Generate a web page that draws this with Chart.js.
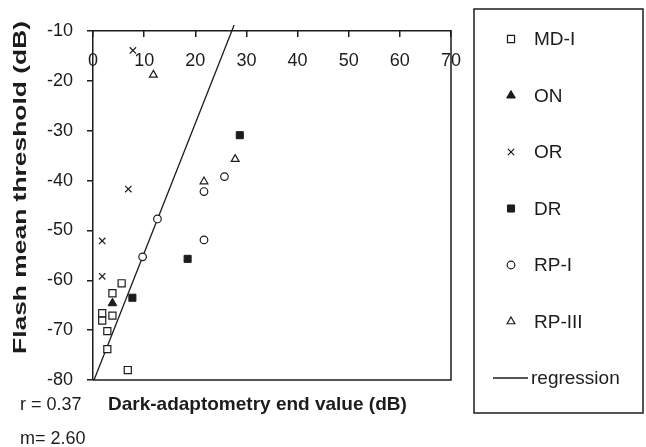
<!DOCTYPE html>
<html>
<head>
<meta charset="utf-8">
<script src="https://cdn.jsdelivr.net/npm/chart.js@4.4.1/dist/chart.umd.min.js"></script>
<style>
  body { margin: 0; background: #fff; }
  #wrap { width: 646px; height: 447px; }
</style>
</head>
<body>
<div id="wrap"><canvas id="chart-flash"></canvas></div>
<script>
// values (x = dark-adaptometry end value, y = flash mean threshold)
const md_x = [5.6, 3.8, 1.8, 1.8, 3.8, 2.8, 2.8, 6.8];
const md_y = [-60.6, -62.6, -66.6, -68.1, -67.1, -70.2, -73.8, -78.0];
const on_x = [3.8];
const on_y = [-64.6];
const or_x = [7.8, 6.9, 1.8, 1.8];
const or_y = [-13.9, -41.7, -52.1, -59.2];
const dr_x = [28.7, 18.5, 7.7];
const dr_y = [-30.9, -55.7, -63.5];
const rp1_x = [25.7, 21.7, 12.6, 21.7, 9.7];
const rp1_y = [-39.2, -42.2, -47.7, -51.9, -55.3];
const rp3_x = [11.8, 27.8, 21.7];
const rp3_y = [-18.8, -35.7, -40.2];
const reg_x = [0.2, 27.6];
const reg_y = [-80, -8.8];

const labels = ['MD-I', 'ON', 'OR', 'DR', 'RP-I', 'RP-III', 'regression'];
const stats = ['r = 0.37', 'm= 2.60'];
const x_title = 'Dark-adaptometry end value (dB)';
const y_title = 'Flash mean threshold (dB)';

const ink = '#1c1c1c';
const font = 'Liberation Sans, Arial, sans-serif';

function pts(xs, ys) {
    return xs.map((x, i) => ({ x: x, y: ys[i] }));
}

const datasets = [
    { label: labels[0], data: pts(md_x, md_y), pointStyle: 'rect', pointRadius: 5, backgroundColor: '#fff', borderColor: ink, borderWidth: 1.2 },
    { label: labels[1], data: pts(on_x, on_y), pointStyle: 'triangle', pointRadius: 5, backgroundColor: ink, borderColor: ink, borderWidth: 1 },
    { label: labels[2], data: pts(or_x, or_y), pointStyle: 'crossRot', pointRadius: 4.5, backgroundColor: ink, borderColor: ink, borderWidth: 1.2 },
    { label: labels[3], data: pts(dr_x, dr_y), pointStyle: 'rect', pointRadius: 5, backgroundColor: ink, borderColor: ink, borderWidth: 1 },
    { label: labels[4], data: pts(rp1_x, rp1_y), pointStyle: 'circle', pointRadius: 3.8, backgroundColor: '#fff', borderColor: ink, borderWidth: 1.2 },
    { label: labels[5], data: pts(rp3_x, rp3_y), pointStyle: 'triangle', pointRadius: 4.5, backgroundColor: '#fff', borderColor: ink, borderWidth: 1.2 },
    { label: labels[6], data: pts(reg_x, reg_y), showLine: true, pointRadius: 0, borderColor: ink, borderWidth: 1.3, clip: false }
];

// frame, x tick labels inside the plot, legend box and free texts
const decorPlugin = {
    id: 'decor',
    afterDraw(chart) {
        const ctx = chart.ctx;
        const a = chart.chartArea;
        ctx.save();
        ctx.strokeStyle = ink;
        ctx.lineWidth = 1.5;
        ctx.beginPath();
        ctx.moveTo(a.right, a.top);
        ctx.lineTo(a.right, a.bottom);
        ctx.lineTo(a.left, a.bottom);
        ctx.stroke();

        ctx.fillStyle = ink;
        ctx.font = '18px ' + font;
        ctx.textAlign = 'center';
        ctx.textBaseline = 'middle';
        const xs = chart.scales.x;
        xs.ticks.forEach(t => {
            ctx.fillText(String(t.value), xs.getPixelForValue(t.value), a.top + 30);
        });

        // legend
        ctx.strokeRect(474, 9, 169, 404);
        ctx.font = '19px ' + font;
        ctx.textAlign = 'left';
        chart.data.datasets.forEach((ds, i) => {
            const y = 39 + i * 56.5;
            ctx.save();
            ctx.strokeStyle = ds.borderColor;
            ctx.fillStyle = ds.backgroundColor;
            ctx.lineWidth = ds.borderWidth;
            if (ds.showLine) {
                ctx.beginPath();
                ctx.moveTo(493, y);
                ctx.lineTo(528, y);
                ctx.stroke();
            } else {
                Chart.helpers.drawPoint(ctx, {
                    pointStyle: ds.pointStyle,
                    radius: ds.pointRadius,
                    rotation: 0,
                    borderWidth: ds.borderWidth
                }, 511, y);
            }
            ctx.restore();
            ctx.fillText(ds.label, ds.showLine ? 531 : 534, y + 1);
        });

        // stats and axis titles
        ctx.textBaseline = 'alphabetic';
        ctx.font = '18px ' + font;
        ctx.fillText(stats[0], 20, 410);
        ctx.fillText(stats[1], 20, 444);
        ctx.font = 'bold 19px ' + font;
        ctx.fillText(x_title, 108, 410);

        ctx.translate(26, 354);
        ctx.rotate(-Math.PI / 2);
        const w = ctx.measureText(y_title).width;
        ctx.scale(333 / w, 1);
        ctx.fillText(y_title, 0, 0);
        ctx.restore();
    }
};

new Chart(document.getElementById('chart-flash'), {
    type: 'scatter',
    data: { datasets: datasets },
    options: {
        responsive: true,
        maintainAspectRatio: false,
        animation: false,
        layout: { padding: { left: 0, top: 0, right: 195, bottom: 67 } },
        plugins: {
            legend: { display: false },
            tooltip: { enabled: false }
        },
        scales: {
            x: {
                type: 'linear',
                position: 'top',
                min: 0,
                max: 70,
                ticks: { stepSize: 10, display: false },
                grid: { drawOnChartArea: false, tickLength: -6, color: ink, lineWidth: 1.5 },
                border: { color: ink, width: 1.5 },
                afterFit(scale) { scale.height = 31; }
            },
            y: {
                type: 'linear',
                min: -80,
                max: -10,
                ticks: {
                    stepSize: 10,
                    padding: 14,
                    color: ink,
                    font: { family: font, size: 18 }
                },
                grid: { drawOnChartArea: false, tickLength: 6, color: ink, lineWidth: 1.5 },
                border: { color: ink, width: 1.5 },
                afterFit(scale) { scale.width = 93; }
            }
        }
    },
    plugins: [decorPlugin]
});
</script>
</body>
</html>
